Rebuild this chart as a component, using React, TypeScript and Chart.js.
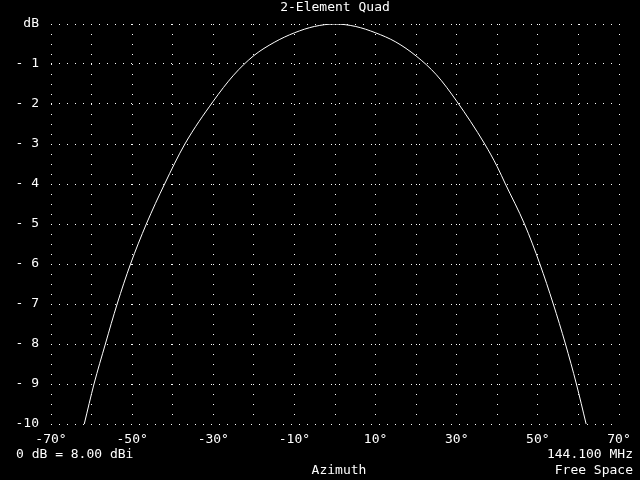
import React, { useEffect, useRef } from "react";
import { Chart, registerables } from "chart.js";

Chart.register(...registerables);

const angles = [-61.8, -59.4, -56.6, -53.7, -50.4, -46.5, -42.0, -37.0, -30, -25, -20, -15, -10, -5, 0, 5, 10, 15, 20, 25, 30, 36.9, 40, 42.0, 46.7, 50.5, 53.8, 56.8, 59.5, 61.9];
const gainDb = [-10, -9, -8, -7, -6, -5, -4, -3, -1.93, -1.28, -0.79, -0.46, -0.22, -0.06, 0, -0.06, -0.22, -0.45, -0.8, -1.27, -1.93, -3, -3.57, -4, -5, -6, -7, -8, -9, -10];

const title = "2-Element Quad";
const xAxisTitle = "Azimuth";
const leftNote = "0 dB = 8.00 dBi";
const rightNotes = ["144.100 MHz", "Free Space"];

const FONT = "13px 'DejaVu Sans Mono', monospace";

const textPlugin = {
  id: "texts",
  beforeDraw(chart: any) {
    const ctx = chart.ctx;
    ctx.save();
    ctx.fillStyle = "#000";
    ctx.fillRect(0, 0, chart.width, chart.height);
    ctx.restore();
  },
  afterDraw(chart: any) {
    const ctx = chart.ctx;
    ctx.save();
    ctx.fillStyle = "#fff";
    ctx.font = FONT;
    ctx.textBaseline = "middle";
    ctx.textAlign = "center";
    ctx.fillText(title, 335, 8);
    ctx.fillText(xAxisTitle, 339, 471);
    ctx.textAlign = "left";
    ctx.fillText(leftNote, 16, 455);
    ctx.textAlign = "right";
    ctx.fillText(rightNotes[0], 633, 455);
    ctx.fillText(rightNotes[1], 633, 471);
    ctx.restore();
  },
};

export default function App() {
  const ref = useRef<HTMLCanvasElement | null>(null);
  useEffect(() => {
    document.body.style.margin = "0";
    document.body.style.background = "#000";
    const canvas = ref.current!;
    const chart = new Chart(canvas, {
      type: "scatter",
      data: {
        datasets: [
          {
            data: angles.map((a, i) => ({ x: a, y: gainDb[i] })),
            showLine: true,
            borderColor: "#fff",
            borderWidth: 1,
            pointRadius: 0,
            cubicInterpolationMode: "monotone",
          } as any,
        ],
      },
      options: {
        animation: false,
        responsive: false,
        events: [],
        layout: { padding: { top: 24, right: 21, bottom: 0, left: 0 } },
        plugins: { legend: { display: false }, title: { display: false }, tooltip: { enabled: false } },
        scales: {
          x: {
            type: "linear",
            min: -70,
            max: 70,
            afterFit: (s: any) => { s.height = 56; },
            grid: { color: "#fff", lineWidth: 1, drawTicks: false },
            border: { display: false, dash: [1, 9] },
            ticks: {
              stepSize: 10,
              autoSkip: false,
              maxRotation: 0,
              padding: 8,
              color: "#fff",
              font: { family: "'DejaVu Sans Mono', monospace", size: 13 },
              callback: (v: any) => ((Number(v) + 70) % 20 === 0 ? `${v}°` : ""),
            },
          },
          y: {
            type: "linear",
            min: -10,
            max: 0,
            afterFit: (s: any) => { s.width = 51; },
            grid: { color: "#fff", lineWidth: 1, drawTicks: false },
            border: { display: false, dash: [1, 7] },
            ticks: {
              stepSize: 1,
              autoSkip: false,
              padding: 12,
              color: "#fff",
              font: { family: "'DejaVu Sans Mono', monospace", size: 13 },
              callback: (v: any) => {
                const n = Number(v);
                if (n === 0) return "dB";
                if (n === -10) return "-10";
                return "- " + -n;
              },
            },
          },
        },
      },
      plugins: [textPlugin],
    });
    return () => chart.destroy();
  }, []);
  return (
    <div style={{ width: 640, height: 480, background: "#000" }}>
      <canvas ref={ref} width={640} height={480} style={{ display: "block" }} />
    </div>
  );
}
